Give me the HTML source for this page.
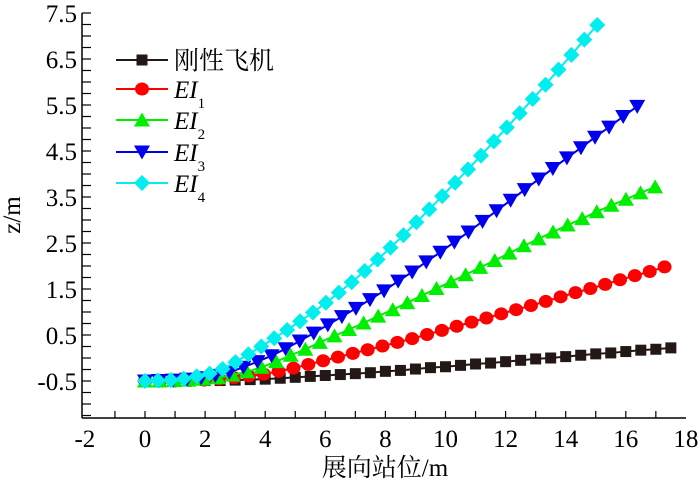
<!DOCTYPE html>
<html><head><meta charset="utf-8">
<style>
body{margin:0;background:#fff;}
svg{display:block;font-family:"Liberation Serif","Noto Serif CJK SC",serif;}
</style></head>
<body>
<svg id="chart" width="700" height="484" viewBox="0 0 700 484">
<g id="axes"></g>
<g id="series"></g>
<g id="legend"></g>
<text x="20" y="215" font-size="25" text-anchor="middle" transform="rotate(-90 20 215)">z/m</text>
<text x="385" y="476" font-size="25" text-anchor="middle">展向站位/m</text>
</svg>
<script>
const xTicks = [-2,0,2,4,6,8,10,12,14,16,18];
const yTicks = [-0.5,0.5,1.5,2.5,3.5,4.5,5.5,6.5,7.5];
const seriesNames = ["刚性飞机","EI1","EI2","EI3","EI4"];
const xSteps = [0.5,0.494,0.485,0.468,0.43];
const rigid = [-0.50,-0.50,-0.50,-0.50,-0.49,-0.49,-0.48,-0.47,-0.46,-0.44,-0.42,-0.40,-0.38,-0.36,-0.34,-0.32,-0.29,-0.27,-0.24,-0.21,-0.19,-0.16,-0.13,-0.11,-0.08,-0.05,-0.02,0.00,0.03,0.06,0.09,0.11,0.14,0.17,0.19,0.22];
const ei1 = [-0.50,-0.50,-0.50,-0.49,-0.48,-0.46,-0.43,-0.39,-0.35,-0.29,-0.22,-0.14,-0.06,0.02,0.10,0.18,0.26,0.34,0.42,0.51,0.60,0.69,0.78,0.87,0.96,1.05,1.14,1.23,1.33,1.42,1.51,1.60,1.70,1.79,1.88,1.98];
const ei2 = [-0.50,-0.50,-0.49,-0.48,-0.46,-0.43,-0.37,-0.30,-0.20,-0.08,0.06,0.19,0.34,0.48,0.62,0.76,0.91,1.05,1.20,1.36,1.51,1.66,1.81,1.97,2.12,2.28,2.44,2.59,2.74,2.89,3.03,3.18,3.32,3.45,3.59,3.72];
const ei3 = [-0.50,-0.49,-0.48,-0.46,-0.43,-0.38,-0.31,-0.20,-0.08,0.05,0.20,0.37,0.54,0.72,0.90,1.08,1.27,1.46,1.67,1.87,2.09,2.30,2.52,2.74,2.97,3.20,3.43,3.66,3.89,4.12,4.35,4.57,4.80,5.02,5.25,5.47];
const ei4 = [-0.50,-0.49,-0.48,-0.45,-0.40,-0.34,-0.24,-0.09,0.08,0.25,0.43,0.61,0.80,0.99,1.20,1.42,1.65,1.89,2.14,2.40,2.67,2.95,3.23,3.52,3.81,4.10,4.40,4.71,5.01,5.32,5.63,5.94,6.27,6.59,6.92,7.24];

const NS="http://www.w3.org/2000/svg";
const xScale = v => 145 + (v)*30.05;
const yScale = v => 381 - (v+0.5)*46;
function mk(tag, attrs, parent){const e=document.createElementNS(NS,tag);for(const k in attrs)e.setAttribute(k,attrs[k]);parent.appendChild(e);return e;}

const axes=document.getElementById('axes');
const yTop=yScale(7.5), yBot=418, xL=82, xR=686;
let a=mk('line',{x1:xL,y1:yTop,x2:xL,y2:yBot,stroke:'#000','stroke-width':1.5},axes);


a=mk('line',{x1:xL,y1:yBot,x2:xR,y2:yBot,stroke:'#000','stroke-width':1.5},axes);


for(let v=7.5; yScale(v)<=yBot; v-=0.25){
  const t=mk('line',{x1:xL,y1:yScale(v),x2:xL+9,y2:yScale(v),stroke:'#000','stroke-width':1.2},axes);
  
  
}
yTicks.forEach(v=>{
  const t=mk('text',{x:77,y:yScale(v)+9,'font-size':25,'text-anchor':'end'},axes);
  t.textContent=v.toFixed(1);
  
  
});
for(let v=-1; v<=17; v+=1){
  const t=mk('line',{x1:xScale(v),y1:yBot,x2:xScale(v),y2:yBot-7,stroke:'#000','stroke-width':1.2},axes);
  
  
}
xTicks.forEach(v=>{
  const t=mk('text',{x:xScale(v),y:447,'font-size':25,'text-anchor':'middle'},axes);
  t.textContent=String(v);
  
  
});

function marker(type,cx,cy,color,g){
  let e;
  if(type==='square') e=mk('rect',{x:cx-5.5,y:cy-5.5,width:11,height:11,fill:color},g);
  else if(type==='circle') e=mk('ellipse',{cx:cx,cy:cy,rx:7,ry:6.5,fill:color},g);
  else if(type==='up') e=mk('polygon',{points:`${cx},${cy-7.5} ${cx-8},${cy+6.5} ${cx+8},${cy+6.5}`,fill:color},g);
  else if(type==='down') e=mk('polygon',{points:`${cx},${cy+7.5} ${cx-8},${cy-6.5} ${cx+8},${cy-6.5}`,fill:color},g);
  else e=mk('polygon',{points:`${cx},${cy-8} ${cx+8},${cy} ${cx},${cy+8} ${cx-8},${cy}`,fill:color},g);
  return e;
}
const seriesData=[rigid,ei1,ei2,ei3,ei4];
const colors=['#231815','#ff0000','#00ee00','#0000ee','#00eeee'];
const shapes=['square','circle','up','down','diamond'];
const sg=document.getElementById('series');
seriesData.forEach((d,i)=>{
  const g=mk('g',{},sg);
  
  
  const pts=d.map((v,j)=>xScale(j*xSteps[i])+','+yScale(v)).join(' ');
  const l=mk('polyline',{points:pts,fill:'none',stroke:colors[i],'stroke-width':2},g);
  
  
  d.forEach((v,j)=>{
    const m=marker(shapes[i],xScale(j*xSteps[i]),yScale(v),colors[i],g);
    
    
  });
});
const lg=document.getElementById('legend');
const rowsY=[60,89,120,152,183];
seriesNames.forEach((n,i)=>{
  const g=mk('g',{},lg);
  
  
  mk('line',{x1:116,y1:rowsY[i],x2:168,y2:rowsY[i],stroke:colors[i],'stroke-width':2},g);
  marker(shapes[i],142,rowsY[i],colors[i],g);
  const t=mk('text',{x:174,y:rowsY[i]+9,'font-size':25},g);
  if(i===0){t.textContent=n;}
  else{
    t.setAttribute('font-style','italic');
    t.textContent='EI';
    const s=mk('tspan',{dy:10,'font-size':15,'font-style':'normal'},t);
    s.textContent=String(i);
  }
});
</script>
</body></html>
